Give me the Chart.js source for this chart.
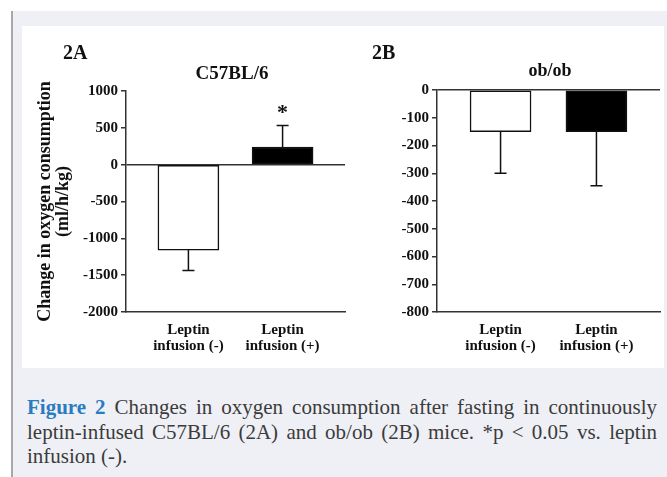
<!DOCTYPE html>
<html>
<head>
<meta charset="utf-8">
<script src="https://cdn.jsdelivr.net/npm/chart.js@4/dist/chart.umd.min.js"></script>
<style>
  body { margin: 0; width: 667px; height: 477px; background: #fff; overflow: hidden; position: relative; font-family: "Liberation Serif", serif; }
  #panel { position: absolute; left: 11px; top: 11px; right: 0; bottom: 0; background: #eff0f6; border-left: 2px solid #a8a8a8; }
  #fig { position: absolute; left: 22px; top: 26px; width: 642px; height: 342px; background: #fff; }
  #fig canvas { position: absolute; top: 0; }
  .lbl { position: absolute; font-weight: bold; color: #111; white-space: nowrap; }
  .ttl { position: absolute; font-weight: bold; color: #111; width: 200px; text-align: center; }
  #caption { position: absolute; left: 27px; top: 395px; width: 630px; font-size: 21px; line-height: 24.5px; color: #3b3b3b; }
  #caption .ln { text-align: justify; text-align-last: justify; white-space: nowrap; }
  #caption .last { text-align-last: left; }
  #caption b { color: #2a7bbf; }
</style>
</head>
<body>
<div id="panel"></div>
<div id="fig">
  <canvas id="c57Chart" width="325" height="342" style="left:0"></canvas>
  <canvas id="obChart" width="312" height="342" style="left:328px"></canvas>
  <div class="lbl" style="left:41px;top:16px;font-size:20px;line-height:20px">2A</div>
  <div class="ttl" style="left:110px;top:37px;font-size:19px;line-height:19px">C57BL/6</div>
  <div class="lbl" style="left:350px;top:16px;font-size:20px;line-height:20px">2B</div>
  <div class="ttl" style="left:428px;top:35px;font-size:18px;line-height:18px">ob/ob</div>
</div>
<div id="caption">
  <div class="ln"><b>Figure 2</b> Changes in oxygen consumption after fasting in continuously</div>
  <div class="ln">leptin-infused C57BL/6 (2A) and ob/ob (2B) mice. *p &lt; 0.05 vs. leptin</div>
  <div class="ln last">infusion (-).</div>
</div>

<script>
// data
const categories = [['Leptin', 'infusion (-)'], ['Leptin', 'infusion (+)']];
const c57Means = [-1160, 240];
const c57Errors = [275, 290];
const c57Marks = ['', '*'];
const c57Ticks = [1000, 500, 0, -500, -1000, -1500, -2000];
const obMeans = [-150, -150];
const obErrors = [150, 195];
const obMarks = ['', ''];
const obTicks = [0, -100, -200, -300, -400, -500, -600, -700, -800];

// where the two bars sit along the x axis (0..2)
const xSlots = [0.57, 1.43];
const serif = '"Liberation Serif", "Times New Roman", serif';

// one-sided error bars + significance star
const errorBars = {
  id: 'errorBars',
  afterDatasetsDraw(chart, args, opts) {
    const ctx = chart.ctx;
    const y = chart.scales.y;
    const meta = chart.getDatasetMeta(0);
    ctx.save();
    ctx.strokeStyle = '#111';
    ctx.lineWidth = 1.5;
    meta.data.forEach((bar, i) => {
      const v = opts.means[i];
      const e = opts.errors[i];
      const end = v < 0 ? v - e : v + e;
      const y0 = y.getPixelForValue(v);
      const y1 = y.getPixelForValue(end);
      ctx.beginPath();
      ctx.moveTo(bar.x, y0);
      ctx.lineTo(bar.x, y1);
      ctx.moveTo(bar.x - 6, y1);
      ctx.lineTo(bar.x + 6, y1);
      ctx.stroke();
      if (opts.marks[i]) {
        ctx.fillStyle = '#111';
        ctx.font = 'bold 22px ' + serif;
        ctx.textAlign = 'center';
        ctx.textBaseline = 'middle';
        ctx.fillText(opts.marks[i], bar.x, y1 - 12);
      }
    });
    ctx.restore();
  }
};

function drawPanel(id, means, errors, marks, yTicks, yTitle, yWidth, topPad) {
  return new Chart(document.getElementById(id), {
    type: 'bar',
    data: {
      datasets: [{
        data: means.map((v, i) => ({ x: xSlots[i], y: v })),
        backgroundColor: ['#ffffff', '#000000'],
        borderColor: '#111',
        borderWidth: 1.5,
        borderSkipped: false,
        barThickness: 61
      }]
    },
    options: {
      responsive: false,
      animation: false,
      layout: { padding: { top: topPad, right: 2, left: 0, bottom: 0 } },
      plugins: {
        legend: { display: false },
        tooltip: { enabled: false },
        errorBars: { means: means, errors: errors, marks: marks }
      },
      scales: {
        x: {
          type: 'linear',
          min: 0,
          max: 2,
          offset: false,
          afterBuildTicks: s => { s.ticks = xSlots.map(v => ({ value: v })); },
          afterFit: s => { s.height = 56; },
          grid: { display: false, drawTicks: false, offset: false },
          border: { display: true, color: '#333', width: 1.5 },
          ticks: {
            autoSkip: false,
            maxRotation: 0,
            padding: 10,
            color: '#111',
            font: { family: serif, size: 15, weight: 'bold', lineHeight: 1.05 },
            callback: (v, i) => categories[i]
          }
        },
        y: {
          min: Math.min(...yTicks),
          max: Math.max(...yTicks),
          afterBuildTicks: s => { s.ticks = yTicks.map(v => ({ value: v })); },
          afterFit: s => { s.width = yWidth; },
          grid: {
            color: c => (c.tick && c.tick.value === 0 ? '#333' : 'rgba(0,0,0,0)'),
            lineWidth: 1.5,
            tickColor: '#333',
            tickLength: 5
          },
          border: { display: true, color: '#333', width: 1.5 },
          ticks: {
            padding: 3,
            color: '#111',
            font: { family: serif, size: 15, weight: 'bold' },
            callback: v => String(v)
          },
          title: {
            display: !!yTitle,
            text: yTitle,
            color: '#111',
            font: { family: serif, size: 18, weight: 'bold', lineHeight: 1 },
            padding: { top: 14, bottom: 0 }
          }
        }
      }
    },
    plugins: [errorBars]
  });
}

drawPanel('c57Chart', c57Means, c57Errors, c57Marks, c57Ticks,
  ['Change in oxygen consumption', '(ml/h/kg)'], 104, 65);
drawPanel('obChart', obMeans, obErrors, obMarks, obTicks, '', 87, 64);
</script>
</body>
</html>
